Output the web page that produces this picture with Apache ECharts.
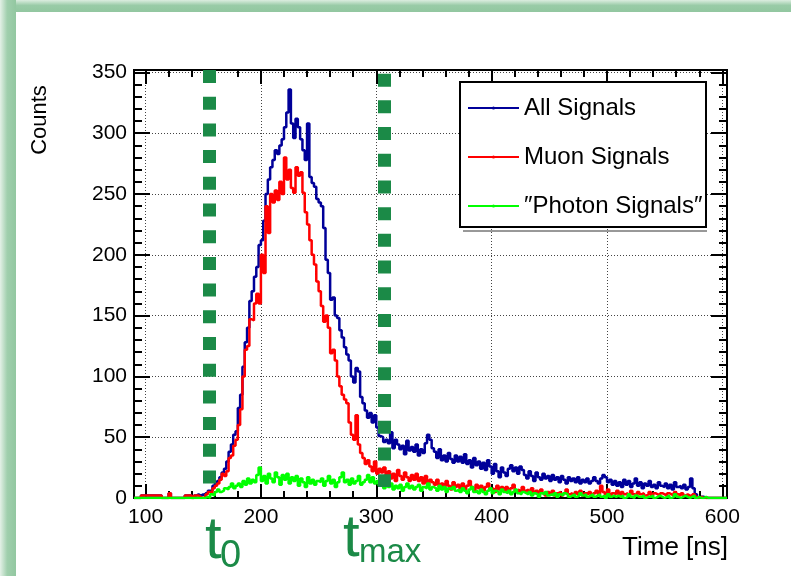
<!DOCTYPE html>
<html>
<head>
<meta charset="utf-8">
<script src="https://cdn.jsdelivr.net/npm/echarts@6/dist/echarts.min.js"></script>
<style>
  html, body { margin: 0; padding: 0; background: #ffffff; }
  #chart { width: 791px; height: 576px; }
</style>
</head>
<body>
<div id="chart"></div>
<script>
// Time histograms: 2 ns bins starting at 90 ns
const BIN_START = 90;
const BIN_WIDTH = 2;

const allSignals = [
  0,0,0,2,2,2,2,2,2,2,
  2,2,0,0,0,4,0,0,0,0,
  0,0,2,2,2,0,2,3,2,3,
  2,4,6,6,10,12,14,17,21,24,
  30,38,44,52,55,74,85,108,128,140,
  162,170,182,190,208,212,228,250,262,272,
  278,286,283,290,295,305,317,336,308,296,
  312,305,295,286,278,308,264,259,256,246,
  243,240,222,196,185,163,165,150,148,138,
  132,124,118,113,100,95,107,104,83,78,
  72,66,70,62,68,58,51,50,46,48,
  45,54,41,48,44,40,43,36,47,39,
  42,38,44,35,40,37,45,52,48,41,
  38,33,40,31,35,30,37,32,29,35,
  30,34,29,36,28,31,25,33,27,30,
  24,29,23,31,26,20,28,22,17,25,
  21,18,24,27,22,25,20,26,23,19,
  16,22,18,14,21,17,15,20,16,18,
  14,19,15,17,13,18,15,12,17,14,
  16,13,17,12,15,13,16,12,14,17,
  14,12,16,19,17,13,15,11,14,10,
  13,9,15,11,14,9,12,16,10,13,
  8,12,10,14,9,11,8,13,10,9,
  12,8,11,7,13,9,10,8,11,7,
  9,16,8,3,0,1,1,0,0,0,
  0,0,0,0,0,0,0
];

const muonSignals = [
  0,0,0,2,2,2,2,2,2,2,
  2,2,0,0,0,4,0,0,0,0,
  0,0,2,2,2,0,2,2,1,0,
  1,3,5,4,8,10,12,15,20,18,
  22,33,35,43,48,60,73,100,122,125,
  147,146,160,168,160,200,185,240,218,250,
  243,253,245,260,250,280,262,270,255,251,
  272,265,268,251,235,225,212,200,192,178,
  170,158,145,150,140,119,122,113,100,92,
  85,81,78,62,52,48,68,44,37,33,
  28,31,26,22,30,20,24,21,25,19,
  22,16,20,14,23,18,15,21,17,14,
  19,15,20,14,17,12,18,10,15,13,
  11,15,9,12,8,14,10,7,13,9,
  11,8,12,7,10,14,9,6,11,8,
  10,6,9,12,7,8,5,10,7,9,
  6,9,5,8,11,6,7,5,9,6,
  7,5,8,4,6,3,7,4,2,5,
  3,6,2,4,5,2,4,7,3,4,
  2,5,3,6,2,4,3,5,2,4,
  6,3,10,5,3,7,2,4,3,6,
  2,5,3,4,2,6,3,2,5,3,
  4,2,3,5,2,4,3,2,4,3,
  2,4,3,2,5,3,2,4,2,3,
  2,1,3,1,0,1,0,0,0,0,
  0,0,0,0,0,0,0
];

const photonSignals = [
  0,0,0,0,0,0,0,0,0,0,
  0,0,0,0,0,0,0,0,0,0,
  0,0,0,0,0,0,0,0,0,0,
  0,1,0,3,2,5,7,5,6,8,
  7,9,12,8,10,12,9,14,11,16,
  12,15,13,19,25,14,18,12,20,16,
  13,21,17,11,19,15,20,12,17,14,
  18,10,16,13,9,17,12,15,11,14,
  13,16,10,14,18,12,15,9,13,17,
  21,13,15,11,16,12,14,18,11,13,
  15,19,13,17,12,14,10,13,8,11,
  9,12,7,10,8,11,6,9,12,8,
  10,7,9,11,6,9,8,12,7,9,
  8,6,10,7,9,5,8,7,9,6,
  7,5,8,6,4,7,9,5,6,4,
  7,5,3,6,8,4,6,5,3,7,
  5,4,6,3,5,7,4,3,5,4,
  3,5,2,4,3,1,4,3,5,2,
  3,2,4,1,3,2,4,3,1,2,
  3,1,2,4,2,3,1,2,3,1,
  2,3,1,2,0,3,1,2,1,2,
  1,2,0,1,3,1,0,2,1,1,
  2,0,1,1,2,0,1,2,1,0,
  1,2,0,1,3,1,0,1,2,1,
  0,1,2,0,1,0,0,1,0,0,
  0,0,0,0,0,0,0
];

// Marker times (ns)
const T0 = 155;
const TMAX = 307;

// Tick labels
const xTickLabels = [100, 200, 300, 400, 500, 600];
const yTickLabels = [0, 50, 100, 150, 200, 250, 300, 350];

const SERIES_NAMES = ['All Signals', 'Muon Signals', '\u2033Photon Signals\u2033'];

const X_MIN = 90, X_MAX = 604, Y_MIN = 0, Y_MAX = 352;
const FONT = '"Liberation Sans", Arial, Helvetica, sans-serif';
const MARK_GREEN = '#1b8a47';

// minor tick positions: every 20 ns on x, every 10 counts on y
const xMinor = [];
for (let v = 100; v <= 600; v += 20) xMinor.push(v);
const yMinor = [];
for (let v = 0; v <= 350; v += 10) yMinor.push(v);

// step-histogram points: left bin edges plus the closing right edge
function histPoints(values) {
  const pts = values.map((v, i) => [BIN_START + i * BIN_WIDTH, v]);
  pts.push([BIN_START + values.length * BIN_WIDTH, values[values.length - 1]]);
  return pts;
}

const tickStyle = { color: '#000', width: 2 };
const frameLine = { show: true, onZero: false, lineStyle: { color: '#000', width: 2 } };

function xAx(position, ticks, len, withLabels) {
  return {
    type: 'value', position, min: X_MIN, max: X_MAX,
    axisLine: frameLine,
    axisTick: { show: true, inside: true, length: len, customValues: ticks, lineStyle: tickStyle },
    axisLabel: withLabels
      ? { show: true, customValues: xTickLabels, fontSize: 21, fontFamily: FONT, color: '#000', margin: 9 }
      : { show: false },
    splitLine: withLabels
      ? { show: true, lineStyle: { color: '#444', width: 1, type: [1, 2] } }
      : { show: false }
  };
}
function yAx(position, ticks, len, withLabels) {
  return {
    type: 'value', position, min: Y_MIN, max: Y_MAX, interval: 50,
    axisLine: frameLine,
    axisTick: { show: true, inside: true, length: len, customValues: ticks, lineStyle: tickStyle },
    axisLabel: withLabels
      ? { show: true, customValues: yTickLabels, fontSize: 21, fontFamily: FONT, color: '#000', margin: 7 }
      : { show: false },
    splitLine: withLabels
      ? { show: true, lineStyle: { color: '#444', width: 1, type: [1, 2] } }
      : { show: false }
  };
}

const chart = echarts.init(document.getElementById('chart'), null, { renderer: 'canvas' });

const option = {
  animation: false,
  backgroundColor: '#ffffff',
  grid: { left: 134, right: 64, top: 70, bottom: 78 },
  xAxis: [
    xAx('bottom', xTickLabels, 14, true),
    xAx('bottom', xMinor, 7, false),
    xAx('top', xTickLabels, 14, false),
    xAx('top', xMinor, 7, false)
  ],
  yAxis: [
    yAx('left', yTickLabels, 16, true),
    yAx('left', yMinor, 8, false),
    yAx('right', yTickLabels, 16, false),
    yAx('right', yMinor, 8, false)
  ],
  legend: {
    orient: 'vertical', left: 467, top: 96, padding: 0,
    itemGap: 25, itemWidth: 51, itemHeight: 4,
    selectedMode: false, z: 20,
    textStyle: { fontSize: 24, fontFamily: FONT, color: '#000', lineHeight: 24 },
    data: SERIES_NAMES
  },
  series: [
    {
      name: SERIES_NAMES[0], type: 'line', step: 'end',
      xAxisIndex: 0, yAxisIndex: 0,
      symbol: 'none', showSymbol: false, z: 2,
      lineStyle: { color: '#000099', width: 2.5 },
      itemStyle: { color: '#000099' },
      data: histPoints(allSignals)
    },
    {
      name: SERIES_NAMES[1], type: 'line', step: 'end',
      xAxisIndex: 0, yAxisIndex: 0,
      symbol: 'circle', symbolSize: 3, showSymbol: false, z: 3,
      lineStyle: { color: '#ff0000', width: 2.5 },
      itemStyle: { color: '#ff0000' },
      data: histPoints(muonSignals)
    },
    {
      name: SERIES_NAMES[2], type: 'line', step: 'end',
      xAxisIndex: 0, yAxisIndex: 0,
      symbol: 'circle', symbolSize: 3, showSymbol: false, z: 4,
      lineStyle: { color: '#00ff00', width: 2.5 },
      itemStyle: { color: '#00ff00' },
      data: histPoints(photonSignals),
      markLine: {
        silent: true, z: 6,
        symbol: ['none', 'none'],
        label: { show: false },
        emphasis: { disabled: true },
        lineStyle: { color: MARK_GREEN, width: 13, type: [13, 13.7], cap: 'butt', opacity: 1 },
        data: [
          [{ coord: [T0, 352] }, { coord: [T0, 12] }],
          [{ coord: [TMAX, 349] }, { coord: [TMAX, 9] }]
        ]
      }
    }
  ],
  graphic: [
    // green slide frame
    {
      type: 'rect', z: 100, silent: true,
      shape: { x: 0, y: 0, width: 791, height: 12 },
      style: { fill: new echarts.graphic.LinearGradient(0, 0, 0, 1, [
        { offset: 0, color: '#dcede0' }, { offset: 0.45, color: '#99cba7' }, { offset: 1, color: '#92c7a0' }
      ]) }
    },
    {
      type: 'rect', z: 101, silent: true,
      shape: { x: 0, y: 0, width: 16, height: 576 },
      style: { fill: new echarts.graphic.LinearGradient(0, 0, 1, 0, [
        { offset: 0, color: '#e4f1e7' }, { offset: 0.45, color: '#a0cfad' }, { offset: 1, color: '#92c7a0' }
      ]) }
    },
    // legend frame
    {
      type: 'rect', z: 10, silent: true,
      shape: { x: 460, y: 82, width: 246, height: 145 },
      style: { fill: '#ffffff', stroke: '#000', lineWidth: 2 }
    },
    {
      type: 'line', z: 10, silent: true,
      shape: { x1: 463, y1: 231, x2: 707, y2: 231 },
      style: { stroke: '#333', lineWidth: 1 }
    },
    // axis titles
    {
      type: 'text', z: 10, x: 728, y: 548,
      style: { text: 'Time [ns]', fontSize: 26, fontFamily: FONT, fill: '#000', align: 'right', verticalAlign: 'middle' }
    },
    {
      type: 'text', z: 10, x: 40, y: 120, rotation: Math.PI / 2,
      style: { text: 'Counts', fontSize: 22, fontFamily: FONT, fill: '#000', align: 'center', verticalAlign: 'middle' }
    },
    // time marker labels
    {
      type: 'text', z: 10, x: 205, y: 541,
      style: { text: 't', fontSize: 60, fontFamily: FONT, fill: MARK_GREEN, align: 'left', verticalAlign: 'middle' }
    },
    {
      type: 'text', z: 10, x: 220, y: 557,
      style: { text: '0', fontSize: 38, fontFamily: FONT, fill: MARK_GREEN, align: 'left', verticalAlign: 'middle' }
    },
    {
      type: 'text', z: 10, x: 343, y: 539,
      style: { text: 't', fontSize: 60, fontFamily: FONT, fill: MARK_GREEN, align: 'left', verticalAlign: 'middle' }
    },
    {
      type: 'text', z: 10, x: 359, y: 553,
      style: { text: 'max', fontSize: 33, fontFamily: FONT, fill: MARK_GREEN, align: 'left', verticalAlign: 'middle' }
    }
  ]
};

chart.setOption(option);
</script>
</body>
</html>
